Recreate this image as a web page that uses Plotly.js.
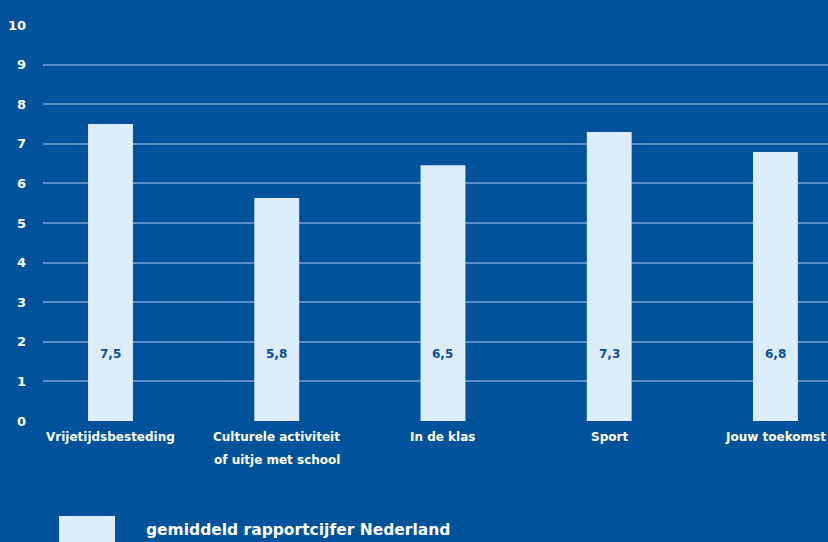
<!DOCTYPE html>
<html><head><meta charset="utf-8">
<script src="https://cdn.plot.ly/plotly-3.0.1.min.js"></script>
<style>html,body{margin:0;padding:0;background:#00529b;}#chart{width:828px;height:542px;}</style>
</head><body><div id="chart"></div>
<script>
const categories = ["Vrijetijdsbesteding", "Culturele activiteit<br>of uitje met school", "In de klas", "Sport", "Jouw toekomst"];
const values = [7.5, 5.63, 6.46, 7.3, 6.79];
const valueLabels = ["7,5", "5,8", "6,5", "7,3", "6,8"];
const seriesName = "gemiddeld rapportcijfer Nederland";
const yTicks = [0,1,2,3,4,5,6,7,8,9,10];

const idx = categories.map((c,i)=>i);
const FONT = "'DejaVu Sans', sans-serif";

const trace = {
  type: 'bar', x: idx, y: values, width: 0.27, name: seriesName,
  marker: {color: '#dcedf9'}, hoverinfo: 'none', showlegend: false
};

const annotations = idx.map(i => ({
  x: i, y: 1.7, xref: 'x', yref: 'y', text: '<b>' + valueLabels[i] + '</b>',
  showarrow: false, font: {family: FONT, size: 12, color: '#0b4f9c'}
}));
// category labels, one annotation per line
idx.forEach(i => {
  categories[i].split('<br>').forEach((line, k) => {
    annotations.push({
      x: i, xref: 'x', yref: 'paper', y: 0, yanchor: 'middle', yshift: -(16 + 23*k),
      text: '<b>' + line + '</b>', showarrow: false,
      font: {family: FONT, size: 12, color: '#ffffff'}
    });
  });
});
annotations.push({
  xref: 'paper', yref: 'paper', x: (144-43)/785, y: -(530-421)/396, xanchor: 'left', yanchor: 'middle',
  text: '<b>' + seriesName + '</b>', showarrow: false, font: {family: FONT, size: 15.5, color: '#ffffff'}
});

const layout = {
  width: 828, height: 542,
  paper_bgcolor: '#00529b', plot_bgcolor: '#00529b',
  margin: {l: 43, r: 0, t: 25, b: 121},
  xaxis: {
    range: [-0.406, 4.316], tickmode: 'array', tickvals: idx, ticktext: idx.map(() => ''),
    showgrid: false, zeroline: false, showline: false, ticks: '', fixedrange: true, showticklabels: false
  },
  yaxis: {
    range: [0, 10], tickmode: 'array', tickvals: yTicks, ticktext: yTicks.map(t => '<b>' + t + '</b>'),
    showgrid: true, gridcolor: '#5b8dc6', gridwidth: 2, zeroline: false, showline: false,
    ticks: '', ticklabelstandoff: 16,
    tickfont: {family: FONT, size: 13, color: '#ffffff'}
  },
  shapes: [{
    type: 'rect', xref: 'paper', yref: 'paper', layer: 'above',
    x0: (59-43)/785, x1: (115-43)/785, y0: -(516-421)/396, y1: -(545-421)/396,
    fillcolor: '#dcedf9', line: {width: 0}
  }],
  annotations: annotations,
  showlegend: false
};

Plotly.newPlot('chart', [trace], layout, {displayModeBar: false, staticPlot: true});
</script></body></html>
